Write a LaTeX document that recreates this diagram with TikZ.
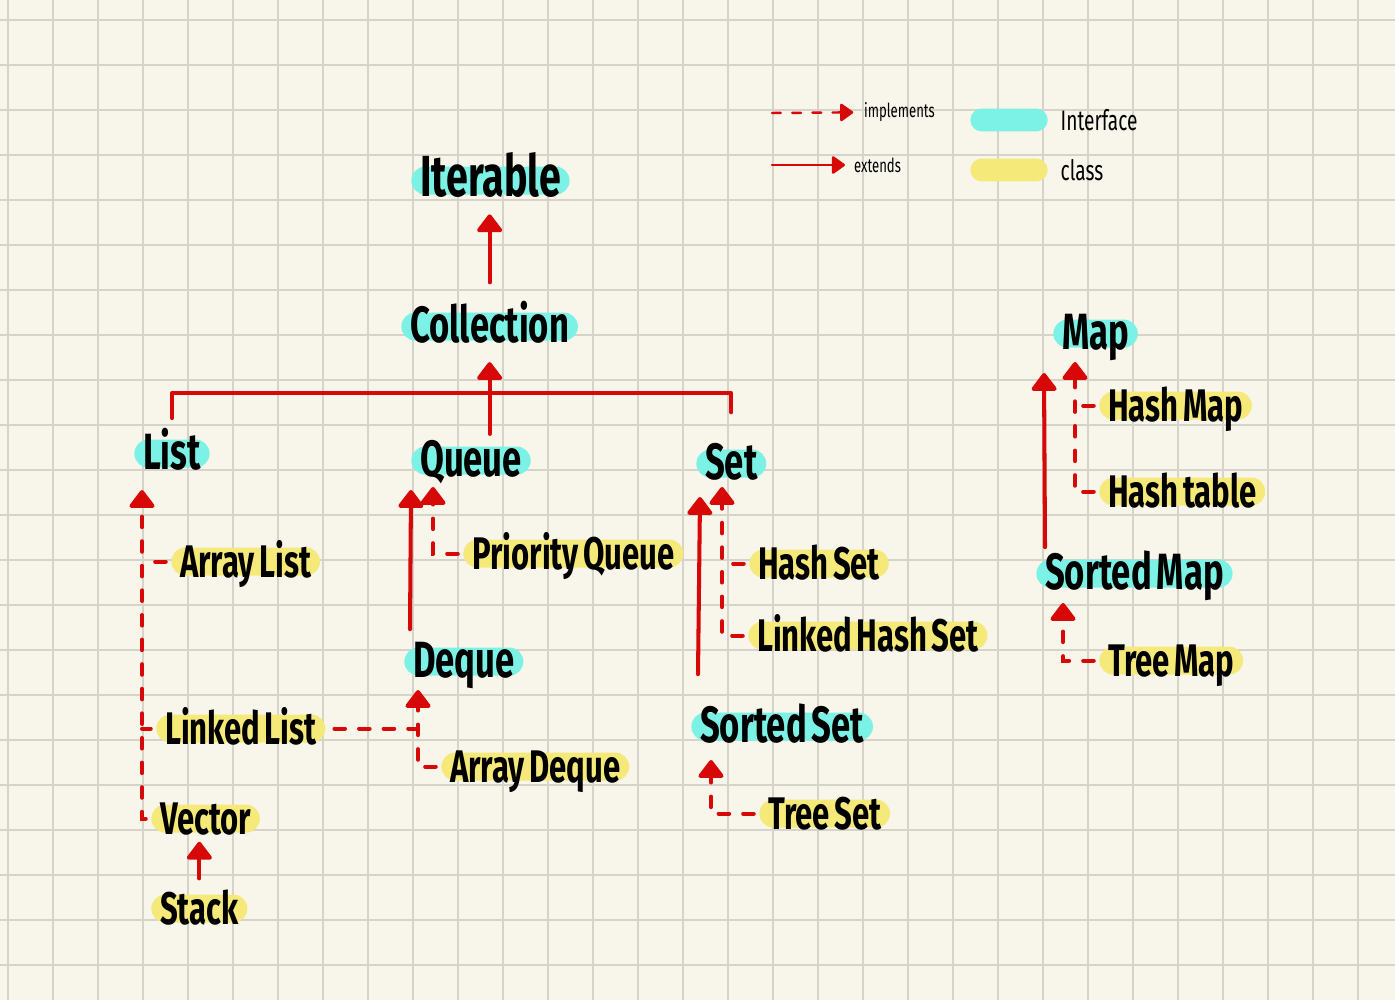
\documentclass[tikz,border=0pt]{standalone}
\usepackage{fontspec}
\newfontfamily\hand{Fira Sans}[FakeStretch=0.68]
\usetikzlibrary{positioning,arrows.meta}
\definecolor{PaperCream}{RGB}{248,245,234}
\definecolor{GridGrey}{RGB}{214,211,202}
\definecolor{PenRed}{RGB}{214,8,8}
\definecolor{IfaceCyan}{RGB}{124,242,230}
\definecolor{ClassYellow}{RGB}{245,233,122}
\tikzset{hl/.style={anchor=south west,rounded corners=8pt,inner xsep=5pt,inner ysep=3pt,text height=10pt,text depth=0pt,execute at begin node={\lower4pt\hbox\bgroup},execute at end node={\egroup}},
iface/.style={hl,fill=IfaceCyan,font={\hand\bfseries\fontsize{29}{29}\selectfont\spaceskip=0.1em\relax}},
cls/.style={hl,fill=ClassYellow,font={\hand\bfseries\fontsize{26}{26}\selectfont\spaceskip=0.1em\relax}},
ext/.style={draw=PenRed,line width=2.3pt,line cap=round,-{Triangle[width=16pt,length=11pt,round]}},
impl/.style={ext,dash pattern=on 6pt off 8pt,shorten <=3pt},
implline/.style={draw=PenRed,line width=2.3pt,line cap=round,dash pattern=on 6pt off 8pt,shorten <=3pt},
rail/.style={draw=PenRed,line width=2.3pt,line cap=round,line join=round},
gridline/.style={draw=GridGrey,line width=1pt},
legtext/.style={inner sep=1pt,font=\hand\fontsize{11}{11}\selectfont},
legbig/.style={inner sep=1pt,font=\hand\fontsize{16}{16}\selectfont},
legext/.style={draw=PenRed,line width=1.4pt,line cap=round,-{Triangle[width=11pt,length=8pt,round]}},
legimpl/.style={legext,dash pattern=on 5pt off 6.5pt},
swatch/.style={minimum width=44pt,minimum height=13pt,inner sep=0pt,rounded corners=6.5pt}}
\begin{document}
\begin{tikzpicture}[x=0.02cm,y=-0.02cm]
\useasboundingbox (0,0) rectangle (1395,1000);
\fill[PaperCream] (0,0) rectangle (1395,1000);
\foreach \gx in {8,53,...,1358} \draw[gridline] (\gx,0) -- (\gx,1000);
\foreach \gy in {20,65,...,965} \draw[gridline] (0,\gy) -- (1395,\gy);

% legend
\node[legtext,anchor=west] (limpl) at (862,112) {implements};
\node[legtext,anchor=west] (lext) at (852,165) {extends};
\coordinate (limplfrom) at (772,113);
\coordinate (lextfrom) at (772,165);
\draw[legimpl,shorten >=5pt] (limplfrom) -- (limpl);
\draw[legext,shorten >=4pt] (lextfrom) -- (lext);
\node[swatch,fill=IfaceCyan] (swif) at (1009,120) {};
\node[swatch,fill=ClassYellow] (swcl) at (1009,170) {};
\node[legbig,right=6pt of swif] (lif) {Interface};
\node[legbig,right=6pt of swcl] (lcl) {class};

% nodes
\node[iface,font={\hand\bfseries\fontsize{33}{33}\selectfont}] (iter) at (411,195) {Iterable};
\node[iface] (coll) at (401,341) {Collection};
\node[iface] (list) at (134,468) {List};
\node[iface] (queue) at (411,475) {Queue};
\node[iface] (set) at (696,478) {Set};
\node[cls] (alist) at (171,576) {Array List};
\node[cls] (pqueue) at (463,568) {Priority Queue};
\node[cls] (hset) at (749,578) {Hash Set};
\node[cls] (lhset) at (748,650) {Linked Hash Set};
\node[iface] (deque) at (404,676) {Deque};
\node[cls] (llist) at (156,743) {Linked List};
\node[cls] (adeque) at (441,781) {Array Deque};
\node[iface] (sset) at (691,741) {Sorted Set};
\node[cls] (tset) at (759,828) {Tree Set};
\node[cls] (vector) at (151,833) {Vector};
\node[cls] (stack) at (151,923) {Stack};
\node[iface] (map) at (1053,348) {Map};
\node[cls] (hmap) at (1099,420) {Hash Map};
\node[cls] (htable) at (1099,506) {Hash table};
\node[iface] (smap) at (1036,588) {Sorted Map};
\node[cls] (tmap) at (1099,675) {Tree Map};

% collection tree
\draw[ext] ([yshift=17pt]coll.north) -- ([yshift=-11pt]coll.north |- iter.south);
\path (coll.south) ++(0,52) coordinate (fork);
\draw[ext,shorten >=12pt] ([yshift=7pt]queue.north -| fork) -- (coll.south);
\draw[rail,shorten <=12pt,shorten >=21pt] (list.north) |- (fork) -| (set.north);

\path (list.south west) ++(8,22) coordinate (listtip);
\draw[impl] (vector.west) -| (listtip);
\draw[implline] (alist.west) -- (alist.west -| listtip);
\draw[implline] (llist.west) -- (llist.west -| listtip);
\draw[ext,shorten >=5pt] ([yshift=9pt]stack.north) -- (stack.north |- vector.south);

\path (queue.south west) ++(0,15) coordinate (qtipA) ++(22,-3) coordinate (qtipB);
\draw[ext] ([shift={(6,-18)}]deque.north west) -- (qtipA);
\draw[impl] (pqueue.west) -| (qtipB);
\path (deque.south west) ++(14,14) coordinate (dqtip);
\draw[impl] (adeque.west) -| (dqtip);
\draw[implline] ([xshift=2pt]llist.east) -- (llist.east -| dqtip);

\path (set.south west) ++(4,19) coordinate (stipA) ++(22,-10) coordinate (stipB);
\draw[ext] ([shift={(7,-38)}]sset.north west) -- (stipA);
\draw[impl] (lhset.west) -| (stipB);
\draw[implline] (hset.west) -- (hset.west -| stipB);
\path (sset.south west) ++(20,19) coordinate (sstip);
\draw[impl] (tset.west) -| (sstip);

% map tree
\path (map.south west) ++(-9,25) coordinate (mtipA) ++(31,-11) coordinate (mtipB);
\draw[ext] ([shift={(9,-12)}]smap.north west) -- (mtipA);
\draw[impl] (htable.west) -| (mtipB);
\draw[implline] (hmap.west) -- (hmap.west -| mtipB);
\path (smap.south west) ++(27,15) coordinate (smtip);
\draw[impl] (tmap.west) -| (smtip);
\end{tikzpicture}
\end{document}
